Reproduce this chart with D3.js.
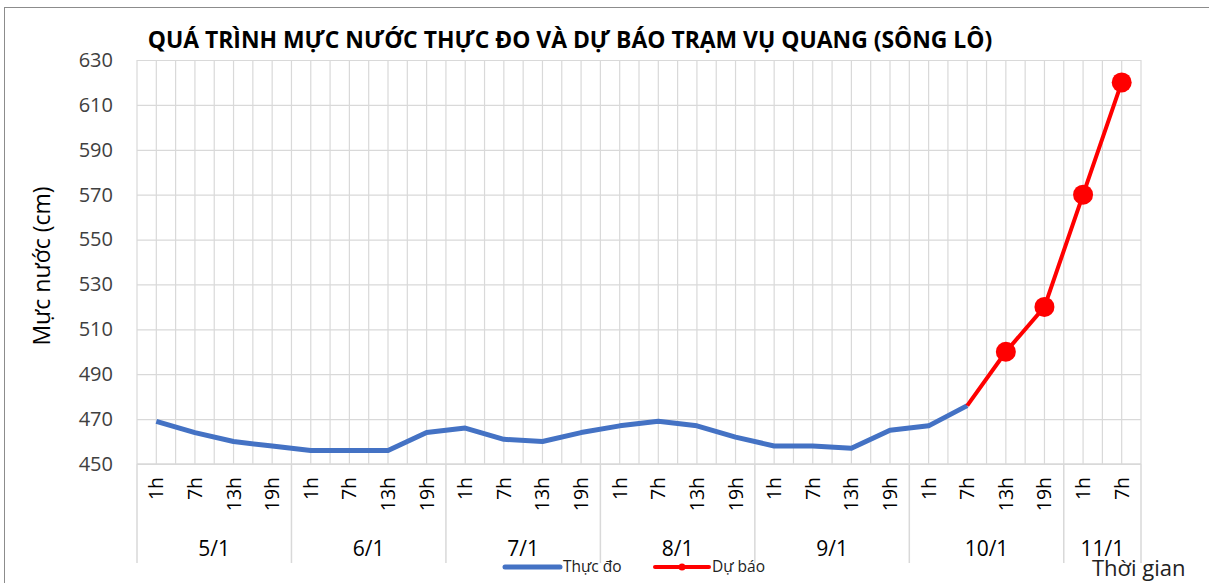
<!DOCTYPE html>
<html>
<head>
<meta charset="utf-8">
<script src="https://cdn.jsdelivr.net/npm/d3@7"></script>
<style>
  html, body { margin: 0; padding: 0; background: #fff; }
  svg { display: block; }
  text { font-family: "Open Sans", "Noto Sans", sans-serif; }
</style>
</head>
<body>
<svg id="chart" width="1209" height="583"></svg>
<script>
const title = "QUÁ TRÌNH MỰC NƯỚC THỰC ĐO VÀ DỰ BÁO TRẠM VỤ QUANG (SÔNG LÔ)";
const yTitle = "Mực nước (cm)";
const xTitle = "Thời gian";
const days = ["5/1", "6/1", "7/1", "8/1", "9/1", "10/1", "11/1"];
const hoursPerDay = [
  ["1h", "7h", "13h", "19h"],
  ["1h", "7h", "13h", "19h"],
  ["1h", "7h", "13h", "19h"],
  ["1h", "7h", "13h", "19h"],
  ["1h", "7h", "13h", "19h"],
  ["1h", "7h", "13h", "19h"],
  ["1h", "7h"]
];
// measured (Thực đo), null = no value
const measured = [469, 464, 460, 458, 456, 456, 456, 464, 466, 461, 460, 464,
                  467, 469, 467, 462, 458, 458, 457, 465, 467, 476,
                  null, null, null, null];
// forecast (Dự báo), starts from last measured point
const forecast = [null, null, null, null, null, null, null, null, null, null, null, null,
                  null, null, null, null, null, null, null, null, null, 476,
                  500, 520, 570, 620];
const yTicks = [450, 470, 490, 510, 530, 550, 570, 590, 610, 630];
const seriesNames = ["Thực đo", "Dự báo"];

// build category list
const cats = [];
days.forEach((d, di) => hoursPerDay[di].forEach((h, hi) => cats.push({ id: d + "|" + h, day: d, hour: h })));

const svg = d3.select("#chart");
const W = 1209, H = 583;
const m = { left: 137, right: 1141, top: 60, bottom: 464 };

// chart frame
svg.append("rect").attr("x", 4.5).attr("y", 7.5).attr("width", W + 10).attr("height", H + 10)
  .attr("fill", "none").attr("stroke", "#8c8c8c").attr("stroke-width", 1);

const x = d3.scaleBand().domain(cats.map(c => c.id)).range([m.left, m.right]).padding(0);
const y = d3.scaleLinear().domain([450, 630]).range([m.bottom, m.top]);
const grid = "#d9d9d9";

// vertical grid: category boundaries and centers
const g = svg.append("g");
const vlines = [];
cats.forEach(c => { vlines.push(x(c.id)); vlines.push(x(c.id) + x.bandwidth() / 2); });
vlines.push(m.right);
g.selectAll("line.v").data(vlines).join("line")
  .attr("x1", d => d).attr("x2", d => d).attr("y1", m.top).attr("y2", m.bottom)
  .attr("stroke", grid).attr("stroke-width", 1.2);

// y axis with horizontal grid
const yAxis = d3.axisLeft(y).tickValues(yTicks).tickSize(-(m.right - m.left)).tickPadding(24);
const ya = svg.append("g").attr("transform", `translate(${m.left},0)`).call(yAxis);
ya.select(".domain").remove();
ya.selectAll(".tick line").attr("stroke", grid).attr("stroke-width", 1.2);
ya.selectAll(".tick text").attr("fill", "#404040").style("font-size", "20px")
  .style("font-family", "'Open Sans', sans-serif");

// x axis: hours (rotated)
const xa = svg.append("g");
xa.append("line").attr("x1", m.left).attr("x2", m.right).attr("y1", m.bottom).attr("y2", m.bottom)
  .attr("stroke", grid).attr("stroke-width", 1.5);
xa.selectAll("text.hour").data(cats).join("text")
  .attr("class", "hour")
  .attr("transform", c => `translate(${x(c.id) + x.bandwidth() / 2 + 7},${m.bottom + 13}) rotate(-90)`)
  .attr("text-anchor", "end")
  .attr("fill", "#000")
  .style("font-size", "19.5px")
  .text(c => c.hour);

// day groups
let idx = 0;
const groups = days.map((d, di) => {
  const first = cats[idx];
  const last = cats[idx + hoursPerDay[di].length - 1];
  idx += hoursPerDay[di].length;
  return { day: d, x0: x(first.id), x1: x(last.id) + x.bandwidth() };
});
const seps = groups.map(gr => gr.x0).concat([m.right]);
xa.selectAll("line.sep").data(seps).join("line")
  .attr("x1", d => d).attr("x2", d => d).attr("y1", m.bottom).attr("y2", 563)
  .attr("stroke", grid).attr("stroke-width", 1.5);
xa.selectAll("text.day").data(groups).join("text")
  .attr("x", gr => (gr.x0 + gr.x1) / 2).attr("y", 556)
  .attr("text-anchor", "middle").attr("fill", "#000")
  .style("font-size", "21px")
  .text(gr => gr.day);

// lines
const px = (i) => x(cats[i].id) + x.bandwidth() / 2;
const lineGen = d3.line().defined(d => d.v != null).x(d => px(d.i)).y(d => y(d.v));
const mData = measured.map((v, i) => ({ i, v }));
const fData = forecast.map((v, i) => ({ i, v }));
svg.append("path").datum(mData).attr("d", lineGen)
  .attr("fill", "none").attr("stroke", "#4472C4").attr("stroke-width", 5).attr("stroke-linejoin", "round");
svg.append("path").datum(fData).attr("d", lineGen)
  .attr("fill", "none").attr("stroke", "#FF0000").attr("stroke-width", 4).attr("stroke-linejoin", "round");
// forecast markers (not on the shared starting point)
const firstF = forecast.findIndex(v => v != null);
svg.selectAll("circle.f").data(fData.filter(d => d.v != null && d.i !== firstF)).join("circle")
  .attr("cx", d => px(d.i)).attr("cy", d => y(d.v)).attr("r", 10).attr("fill", "#FF0000");

// title
const t = svg.append("text").attr("x", 570).attr("y", 48).attr("text-anchor", "middle")
  .attr("fill", "#000").style("font-weight", "bold").style("font-size", "20px").text(title);
const tw = t.node().getComputedTextLength();
t.style("font-size", (20 * 845 / tw).toFixed(2) + "px");

// y title
svg.append("text").attr("transform", "translate(50,266) rotate(-90)").attr("text-anchor", "middle")
  .attr("fill", "#000").style("font-size", "23px").text(yTitle);

// x title
svg.append("text").attr("x", 1092).attr("y", 576).attr("fill", "#222")
  .style("font-size", "22px").text(xTitle);

// legend
const lg = svg.append("g");
lg.append("line").attr("x1", 505).attr("x2", 560).attr("y1", 567).attr("y2", 567)
  .attr("stroke", "#4472C4").attr("stroke-width", 5).attr("stroke-linecap", "round");
lg.append("text").attr("x", 563).attr("y", 572).style("font-size", "15.5px").attr("fill", "#222").text(seriesNames[0]);
lg.append("line").attr("x1", 655).attr("x2", 709).attr("y1", 567).attr("y2", 567)
  .attr("stroke", "#FF0000").attr("stroke-width", 4).attr("stroke-linecap", "round");
lg.append("circle").attr("cx", 682).attr("cy", 567).attr("r", 3.5).attr("fill", "#FF0000");
lg.append("text").attr("x", 712).attr("y", 572).style("font-size", "15.5px").attr("fill", "#222").text(seriesNames[1]);
</script>
</body>
</html>
